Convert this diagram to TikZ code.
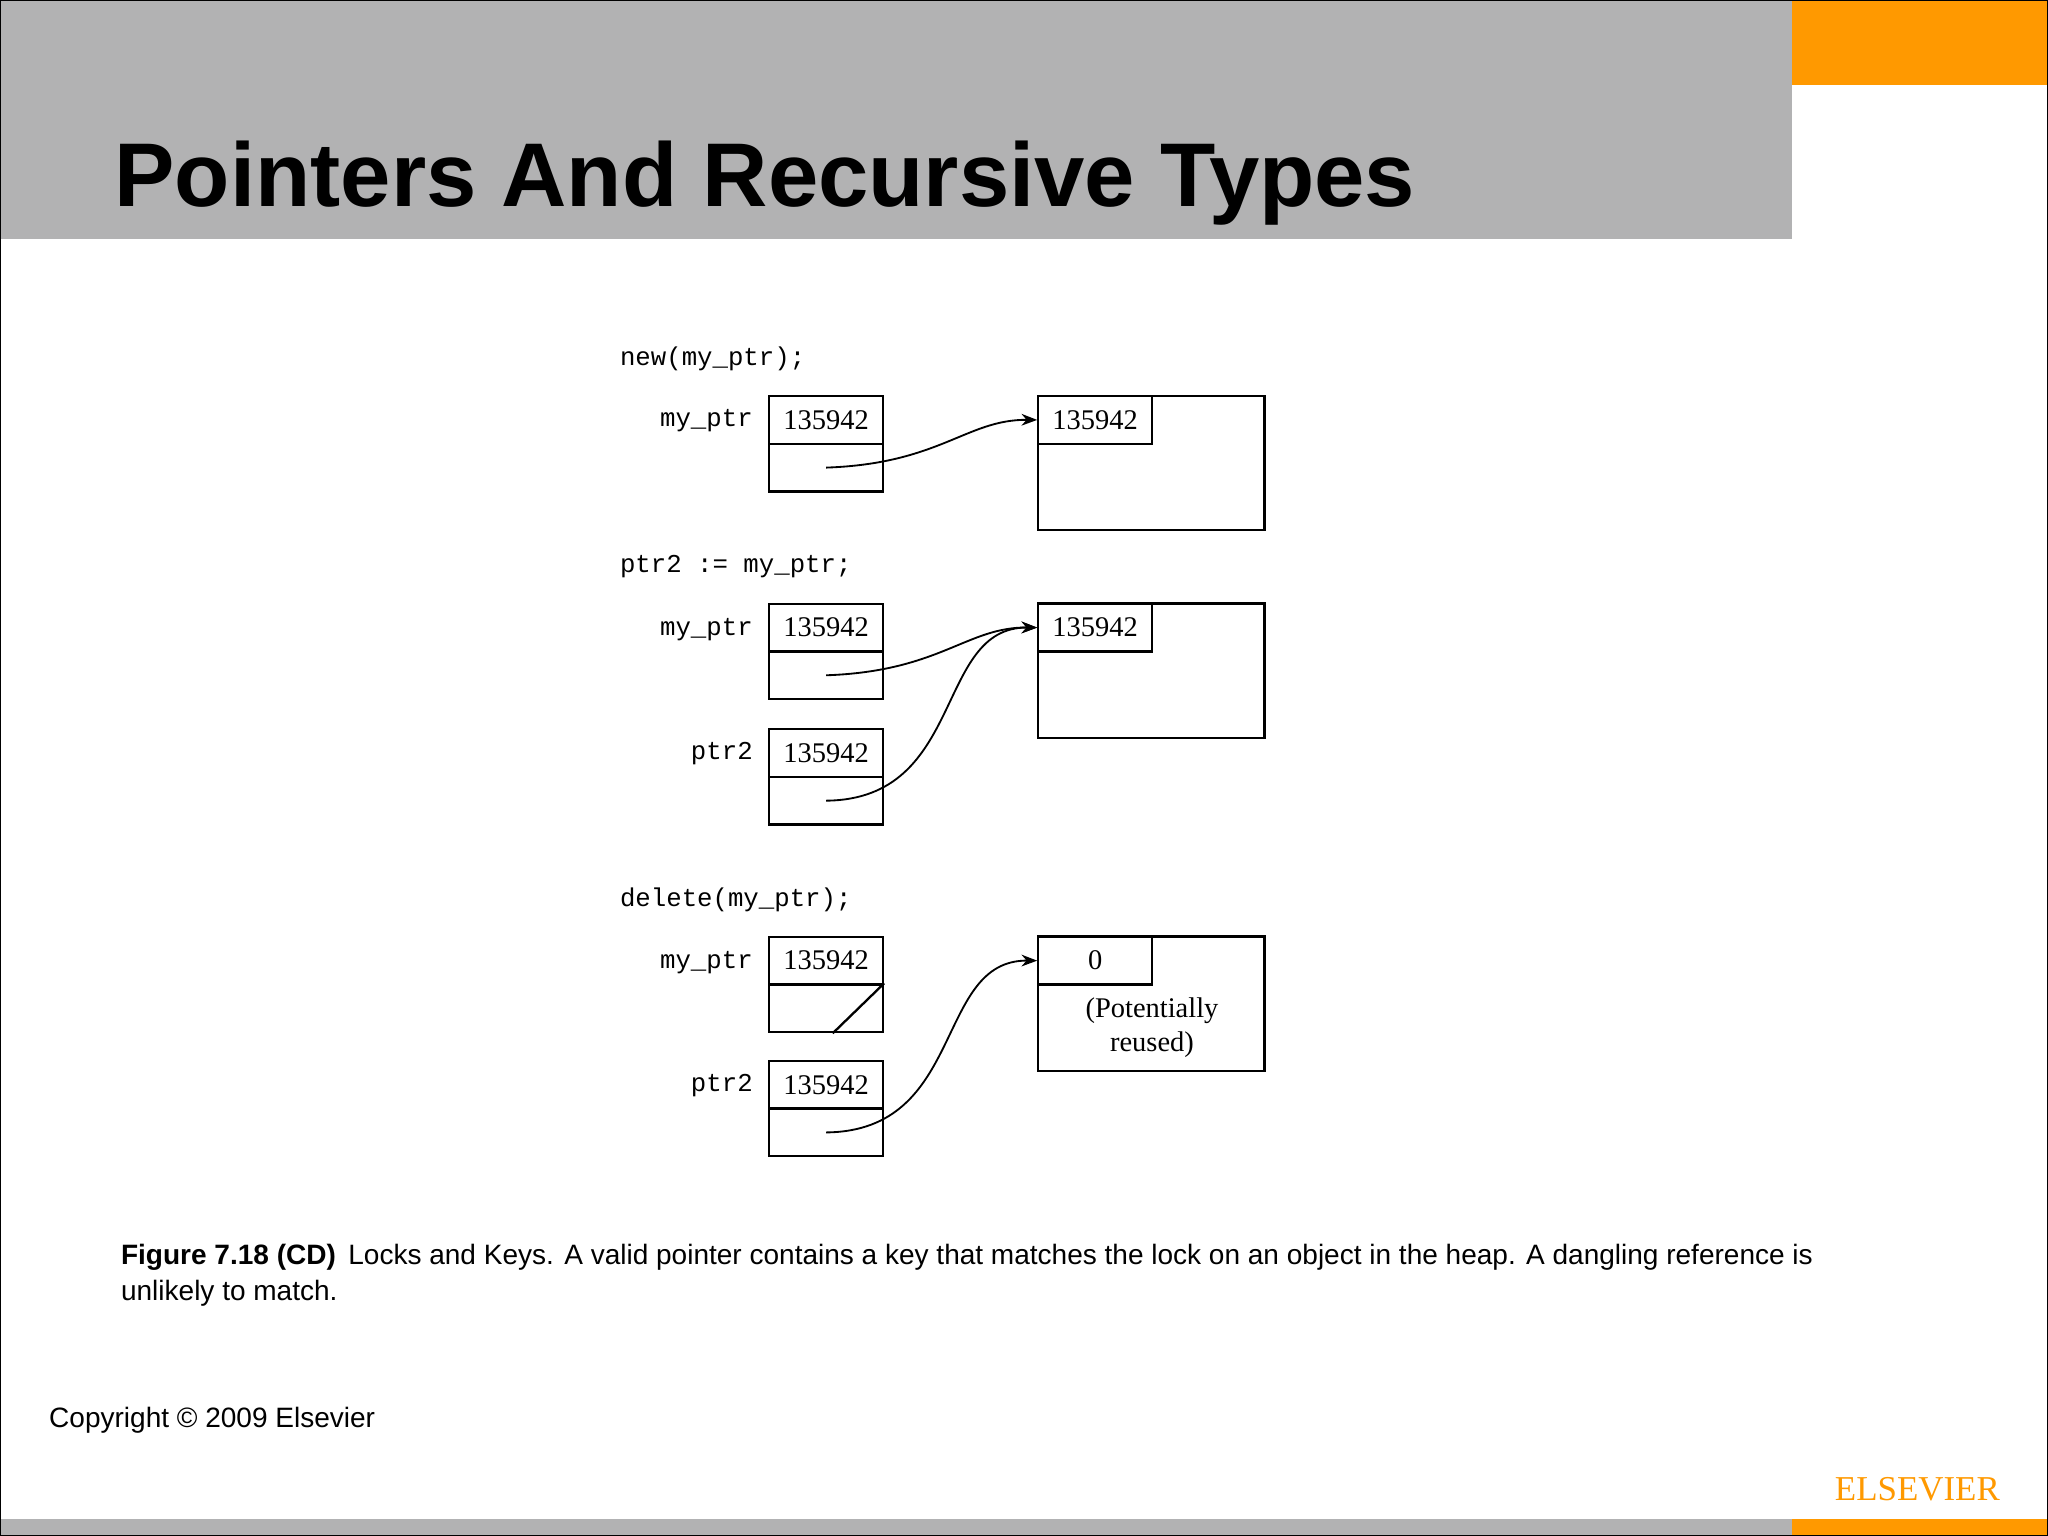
\documentclass[tikz,border=0pt]{standalone}
\usepackage{fontspec}
\setmainfont{Liberation Serif}
\setsansfont{Liberation Sans}
\setmonofont{Liberation Mono}
\usetikzlibrary{arrows.meta, calc, positioning}

\definecolor{headgray}{RGB}{178,178,179}
\definecolor{elsorange}{RGB}{255,153,0}

\begin{document}
\begin{tikzpicture}[
    x=0.01cm, y=-0.01cm,
    cell/.style={draw, line width=0.5pt, minimum width=0.87cm, minimum height=0.365cm, inner sep=0pt, font=\fontsize{6.2}{7}\selectfont},
    heap/.style={draw, line width=0.5pt, minimum width=1.73cm, minimum height=1.03cm, inner sep=0pt},
    varname/.style={anchor=east, inner sep=0pt, font=\ttfamily\fontsize{5.6}{6}\selectfont},
    code/.style={anchor=west, inner sep=0pt, font=\ttfamily\fontsize{5.6}{6}\selectfont},
    arrow/.style={-{Stealth[length=1.2mm,width=0.9mm]}, line width=0.4pt}
  ]
  \useasboundingbox (0,0) rectangle (1568,1176);

  % Kopf- und Fusszeile
  \fill[headgray] (0,0) rectangle (1372,183);
  \fill[elsorange] (1372,0) rectangle (1568,65);
  \fill[headgray] (0,1163) rectangle (1372,1176);
  \fill[elsorange] (1372,1163) rectangle (1568,1176);
  \draw[line width=0.4pt] (0,0) rectangle (1568,1176);
  \node[anchor=base west, inner sep=0pt, font=\sffamily\bfseries\fontsize{19.7}{24}\selectfont] (title) at (87,158) {Pointers And Recursive Types};

  % new(my_ptr);
  \node[code] (code1) at (474,275) {new(my\_ptr);};
  \node[cell] (p1a) at (632.5,321.5) {135942};
  \node[cell, below=-0.5pt of p1a] (p1b) {};
  \node[varname] at (577,322) {my\_ptr};
  \node[heap] (h1) at (881.5,354.5) {};
  \node[cell] (l1) at (838.5,321.5) {135942};
  \draw[arrow] (p1b.center) .. controls (720,355) and (740,321) .. (l1.west);

  % ptr2 := my_ptr;
  \node[code] (code2) at (474,434) {ptr2 := my\_ptr;};
  \node[cell] (p2a) at (632.5,480.5) {135942};
  \node[cell, below=-0.5pt of p2a] (p2b) {};
  \node[varname] at (577,482) {my\_ptr};
  \node[cell] (q2a) at (632.5,576.5) {135942};
  \node[cell, below=-0.5pt of q2a] (q2b) {};
  \node[varname] at (577,577) {ptr2};
  \node[heap] (h2) at (881.5,513.5) {};
  \node[cell] (l2) at (838.5,480.5) {135942};
  \draw[arrow] (p2b.center) .. controls (720,514) and (740,480) .. (l2.west);
  \draw[arrow] (q2b.center) .. controls (740,612) and (715,480) .. (l2.west);

  % delete(my_ptr);
  \node[code] (code3) at (474,689) {delete(my\_ptr);};
  \node[cell] (p3a) at (632.5,735.5) {135942};
  \node[cell, below=-0.5pt of p3a] (p3b) {};
  \node[varname] at (577,737) {my\_ptr};
  \draw[line width=0.5pt] ($(p3b.south)+(5,0)$) -- (p3b.north east);
  \node[cell] (q3a) at (632.5,830.5) {135942};
  \node[cell, below=-0.5pt of q3a] (q3b) {};
  \node[varname] at (577,831) {ptr2};
  \node[heap] (h3) at (881.5,768.5) {};
  \node[cell] (l3) at (838.5,735.5) {0};
  \node[align=center, font=\fontsize{6.2}{7.4}\selectfont] (reuse) at (882,787) {(Potentially\\reused)};
  \draw[arrow] (q3b.center) .. controls (740,866) and (715,735) .. (l3.west);

  % Bildunterschrift
  \node[anchor=base west, inner sep=0pt, font=\sffamily\fontsize{6.1}{8}\selectfont] (cap1) at (92,968) {\textbf{Figure 7.18 (CD)}\, Locks and Keys. A valid pointer contains a key that matches the lock on an object in the heap. A dangling reference is};
  \node[anchor=base west, inner sep=0pt, font=\sffamily\fontsize{6.1}{8}\selectfont] (cap2) at (92,996) {unlikely to match.};
  \node[anchor=base west, inner sep=0pt, font=\sffamily\fontsize{6.1}{8}\selectfont] (copy) at (37,1093) {Copyright © 2009 Elsevier};
  \node[anchor=base, inner sep=0pt, text=elsorange, font=\fontsize{7.6}{8}\selectfont] (logo) at (1468,1149) {ELSEVIER};
\end{tikzpicture}
\end{document}
